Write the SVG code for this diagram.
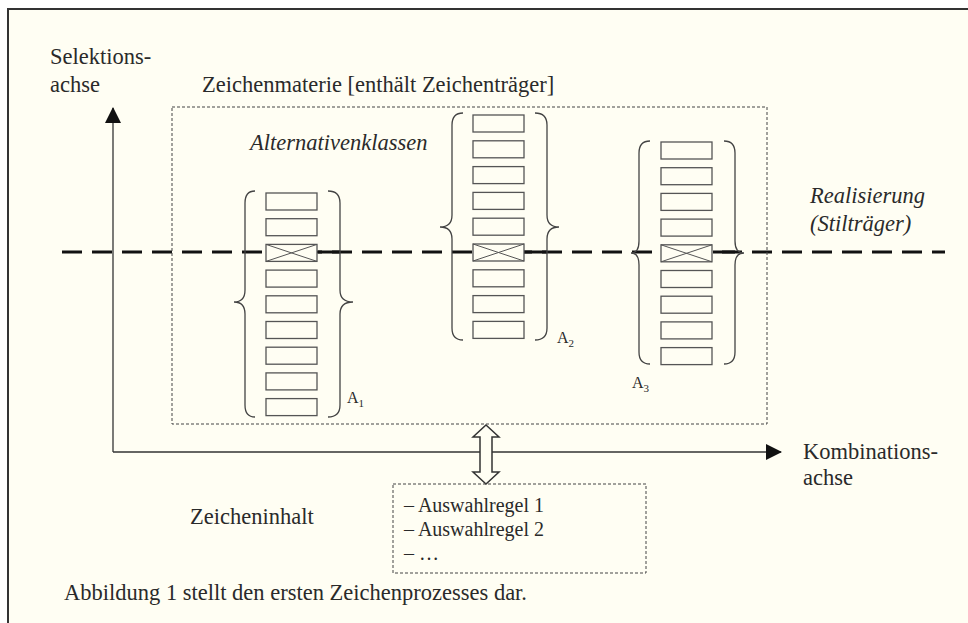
<svg xmlns="http://www.w3.org/2000/svg" width="968" height="623" viewBox="0 0 968 623">
<style>
text{font-family:"Liberation Serif","Times New Roman",serif;fill:#2a2a2a;font-size:22.5px}
.it{font-style:italic}
.sm{font-size:20px}
.lab{font-size:16px}
.sub{font-size:11px}
.cell{fill:#fffef3;stroke:#555;stroke-width:1.3}
.x{stroke:#555;stroke-width:1}
.brace{fill:none;stroke:#444;stroke-width:1.3}
.box{fill:none;stroke:#444;stroke-width:1;stroke-dasharray:3 2}
.axis{stroke:#333;stroke-width:1.3;fill:none}
</style>
<defs>
<marker id="ah" viewBox="0 0 16 16" refX="15" refY="8" markerWidth="16" markerHeight="16" markerUnits="userSpaceOnUse" orient="auto">
<path d="M0,0 L16,8 L0,16 Z" fill="#111"/>
</marker>
<g id="cell"><rect class="cell" x="0" y="0" width="51" height="17"/></g>
<g id="xcell"><rect class="cell" x="0" y="0" width="51" height="17"/><path class="x" d="M0,0 L51,17 M0,17 L51,0"/></g>
</defs>
<rect x="0" y="0" width="968" height="623" fill="#ffffff"/>
<rect x="8" y="9" width="980" height="640" fill="#fffef3" stroke="#333" stroke-width="2"/>

<g id="connectors">
<path class="axis" d="M113,452 L113,108" marker-end="url(#ah)"/>
<path class="axis" d="M113,452 L781,452" marker-end="url(#ah)"/>
<line x1="62" y1="252" x2="945" y2="252" stroke="#111" stroke-width="3" stroke-dasharray="20 10"/>
<path d="M318,252 H340 M524,252 H547 M713,252 H735" stroke="#111" stroke-width="3"/>
<polygon points="486,425 499,437 492,437 492,472 499,472 486,484 473,472 480,472 480,437 473,437" fill="#fffef3" stroke="#333" stroke-width="1.5"/>
</g>

<g id="axis-labels">
<text x="50" y="64">Selektions-</text>
<text x="50" y="92">achse</text>
<text x="803" y="459">Kombinations-</text>
<text x="803" y="485">achse</text>
</g>

<g id="zeichenmaterie">
<rect class="box" x="172" y="107" width="595" height="317"/>
<text x="202" y="92">Zeichenmaterie [enthält Zeichenträger]</text>
<text class="it" x="250" y="150">Alternativenklassen</text>
</g>

<g id="realisierung">
<text class="it" x="810" y="203">Realisierung</text>
<text class="it" x="810" y="231">(Stilträger)</text>
</g>

<g id="A1">
<path class="brace" d="M255,191 Q245,191 245,203 L245,290 Q245,302 234,302 Q245,302 245,314 L245,405 Q245,417 255,417"/>
<path class="brace" d="M328,191 Q340,191 340,203 L340,290 Q340,302 353,302 Q340,302 340,314 L340,405 Q340,417 328,417"/>
<use href="#cell" x="266" y="193"/>
<use href="#cell" x="266" y="218.7"/>
<use href="#xcell" x="266" y="244.4"/>
<use href="#cell" x="266" y="270.1"/>
<use href="#cell" x="266" y="295.8"/>
<use href="#cell" x="266" y="321.5"/>
<use href="#cell" x="266" y="347.2"/>
<use href="#cell" x="266" y="372.9"/>
<use href="#cell" x="266" y="398.6"/>
<text class="lab" x="347" y="403">A<tspan class="sub" dy="4">1</tspan></text>
</g>

<g id="A2">
<path class="brace" d="M463,113 Q452,113 452,125 L452,215 Q452,227 440,227 Q452,227 452,239 L452,328 Q452,340 463,340"/>
<path class="brace" d="M535,113 Q547,113 547,125 L547,215 Q547,227 559,227 Q547,227 547,239 L547,328 Q547,340 535,340"/>
<use href="#cell" x="473" y="115"/>
<use href="#cell" x="473" y="140.8"/>
<use href="#cell" x="473" y="166.6"/>
<use href="#cell" x="473" y="192.4"/>
<use href="#cell" x="473" y="218.2"/>
<use href="#xcell" x="473" y="244"/>
<use href="#cell" x="473" y="269.8"/>
<use href="#cell" x="473" y="295.6"/>
<use href="#cell" x="473" y="321.4"/>
<text class="lab" x="557" y="343">A<tspan class="sub" dy="4">2</tspan></text>
</g>

<g id="A3">
<path class="brace" d="M650,141 Q639,141 639,153 L639,241 Q639,253 631,253 Q639,253 639,265 L639,352 Q639,364 650,364"/>
<path class="brace" d="M724,141 Q735,141 735,153 L735,241 Q735,253 744,253 Q735,253 735,265 L735,352 Q735,364 724,364"/>
<use href="#cell" x="661" y="142"/>
<use href="#cell" x="661" y="167.7"/>
<use href="#cell" x="661" y="193.4"/>
<use href="#cell" x="661" y="219.1"/>
<use href="#xcell" x="661" y="244.8"/>
<use href="#cell" x="661" y="270.5"/>
<use href="#cell" x="661" y="296.2"/>
<use href="#cell" x="661" y="321.9"/>
<use href="#cell" x="661" y="347.6"/>
<text class="lab" x="632" y="388">A<tspan class="sub" dy="4">3</tspan></text>
</g>

<g id="zeicheninhalt">
<rect class="box" x="393" y="484" width="253" height="89"/>
<text x="190" y="524">Zeicheninhalt</text>
<text class="sm" x="404" y="512">– Auswahlregel 1</text>
<text class="sm" x="404" y="536">– Auswahlregel 2</text>
<text class="sm" x="404" y="560">– …</text>
</g>

<g id="caption">
<text x="64" y="600">Abbildung 1 stellt den ersten Zeichenprozesses dar.</text>
</g>
</svg>
